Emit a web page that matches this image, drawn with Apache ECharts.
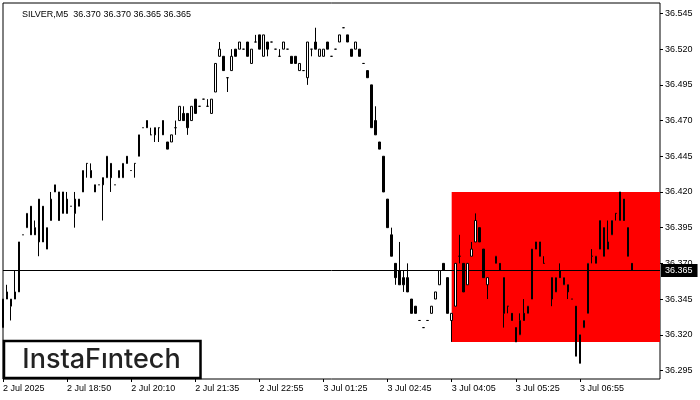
<!DOCTYPE html>
<html>
<head>
<meta charset="utf-8">
<script src="https://cdn.jsdelivr.net/npm/echarts@6.0.0/dist/echarts.min.js"></script>
<style>
html,body{margin:0;padding:0;background:#fff;}
#chart{width:700px;height:400px;}
</style>
</head>
<body>
<div id="chart"></div>
<script>
// ---- data (SILVER, M5) ----
const symbolTitle = 'SILVER,M5  36.370 36.370 36.365 36.365';
const tickLabels = ['2 Jul 2025','2 Jul 18:50','2 Jul 20:10','2 Jul 21:35','2 Jul 22:55','3 Jul 01:25','3 Jul 02:45','3 Jul 04:05','3 Jul 05:25','3 Jul 06:55'];
const barsPerTick = 16;
const slotCount = 165; // bars plus empty right shift
const priceTicks = [36.295,36.320,36.345,36.370,36.395,36.420,36.445,36.470,36.495,36.520,36.545];

const opens = [36.325,36.350,36.340,36.350,36.350,36.390,36.395,36.410,36.395,36.385,
36.410,36.380,36.400,36.420,36.420,36.405,36.415,36.410,36.415,36.410,
36.420,36.440,36.435,36.425,36.425,36.430,36.430,36.440,36.425,36.430,
36.430,36.445,36.435,36.440,36.445,36.465,36.470,36.460,36.465,36.465,
36.470,36.455,36.455,36.465,36.470,36.475,36.475,36.470,36.485,36.480,
36.485,36.480,36.475,36.490,36.515,36.515,36.500,36.505,36.520,36.520,
36.520,36.525,36.510,36.525,36.530,36.515,36.525,36.525,36.520,36.515,
36.520,36.520,36.515,36.515,36.505,36.505,36.500,36.520,36.525,36.515,
36.515,36.525,36.515,36.520,36.525,36.535,36.530,36.520,36.520,36.520,
36.510,36.505,36.495,36.470,36.455,36.445,36.415,36.390,36.370,36.365,
36.360,36.360,36.345,36.340,36.330,36.325,36.330,36.335,36.345,36.355,
36.370,36.360,36.330,36.340,36.375,36.370,36.355,36.375,36.385,36.395,
36.380,36.355,36.365,36.370,36.370,36.360,36.340,36.335,36.325,36.320,
36.335,36.335,36.345,36.385,36.385,36.370,36.365,36.360,36.350,36.365,
36.355,36.355,36.345,36.340,36.300,36.325,36.335,36.375,36.370,36.380,
36.395,36.380,36.390,36.405,36.400,36.415,36.395,36.370];

const highs = [36.345,36.355,36.345,36.365,36.385,36.390,36.405,36.410,36.400,36.415,
36.410,36.395,36.420,36.425,36.420,36.420,36.420,36.410,36.420,36.415,
36.435,36.440,36.440,36.425,36.425,36.430,36.445,36.440,36.425,36.435,
36.440,36.445,36.435,36.440,36.460,36.465,36.470,36.465,36.465,36.465,
36.470,36.455,36.460,36.470,36.480,36.480,36.475,36.480,36.485,36.480,
36.485,36.485,36.485,36.510,36.525,36.515,36.500,36.520,36.520,36.525,
36.520,36.525,36.520,36.530,36.530,36.530,36.525,36.525,36.520,36.520,
36.525,36.520,36.515,36.515,36.510,36.505,36.525,36.520,36.535,36.520,
36.520,36.525,36.515,36.520,36.530,36.535,36.530,36.520,36.525,36.520,
36.510,36.505,36.495,36.480,36.455,36.445,36.415,36.395,36.370,36.385,
36.365,36.370,36.345,36.340,36.330,36.325,36.330,36.340,36.350,36.365,
36.370,36.360,36.335,36.370,36.390,36.370,36.370,36.385,36.405,36.395,
36.380,36.360,36.365,36.375,36.370,36.360,36.340,36.335,36.325,36.335,
36.345,36.340,36.380,36.385,36.385,36.375,36.365,36.360,36.360,36.370,
36.360,36.355,36.345,36.340,36.320,36.330,36.370,36.380,36.375,36.400,
36.395,36.400,36.400,36.405,36.420,36.415,36.395,36.370];

const lows = [36.325,36.345,36.330,36.345,36.350,36.390,36.395,36.390,36.390,36.375,
36.385,36.380,36.400,36.420,36.400,36.405,36.405,36.410,36.395,36.410,
36.420,36.430,36.430,36.420,36.425,36.400,36.430,36.420,36.425,36.430,
36.430,36.440,36.435,36.430,36.445,36.465,36.465,36.460,36.455,36.455,
36.460,36.450,36.455,36.460,36.470,36.470,36.460,36.470,36.475,36.480,
36.485,36.480,36.475,36.490,36.515,36.505,36.490,36.505,36.515,36.520,
36.520,36.515,36.510,36.525,36.520,36.515,36.515,36.525,36.520,36.515,
36.520,36.520,36.510,36.510,36.505,36.505,36.495,36.515,36.520,36.515,
36.515,36.520,36.515,36.520,36.525,36.535,36.525,36.515,36.520,36.515,
36.510,36.500,36.465,36.460,36.450,36.420,36.395,36.375,36.355,36.355,
36.350,36.350,36.335,36.335,36.330,36.325,36.330,36.335,36.345,36.355,
36.365,36.335,36.315,36.340,36.370,36.350,36.355,36.375,36.385,36.385,
36.360,36.345,36.365,36.370,36.365,36.325,36.335,36.330,36.315,36.320,
36.330,36.335,36.345,36.380,36.375,36.370,36.365,36.340,36.350,36.360,
36.355,36.345,36.345,36.305,36.300,36.325,36.335,36.370,36.370,36.380,
36.375,36.380,36.390,36.400,36.400,36.400,36.375,36.365];

const closes = [36.345,36.345,36.345,36.345,36.385,36.390,36.405,36.390,36.390,36.415,
36.385,36.395,36.415,36.425,36.400,36.420,36.405,36.410,36.405,36.415,
36.435,36.440,36.430,36.420,36.425,36.425,36.445,36.430,36.425,36.435,
36.440,36.440,36.435,36.440,36.460,36.465,36.465,36.460,36.460,36.465,
36.460,36.450,36.460,36.465,36.480,36.470,36.465,36.480,36.475,36.480,
36.485,36.480,36.485,36.510,36.520,36.505,36.500,36.515,36.515,36.525,
36.520,36.515,36.520,36.525,36.520,36.530,36.520,36.525,36.520,36.515,
36.525,36.520,36.510,36.510,36.510,36.505,36.525,36.520,36.520,36.520,
36.520,36.520,36.515,36.520,36.530,36.535,36.525,36.515,36.525,36.515,
36.510,36.500,36.465,36.460,36.450,36.420,36.395,36.375,36.360,36.355,
36.355,36.350,36.335,36.335,36.330,36.325,36.330,36.340,36.350,36.365,
36.365,36.335,36.335,36.370,36.375,36.350,36.370,36.380,36.400,36.385,
36.360,36.360,36.365,36.375,36.365,36.335,36.340,36.330,36.315,36.330,
36.330,36.340,36.380,36.380,36.375,36.370,36.365,36.345,36.360,36.360,
36.360,36.350,36.345,36.305,36.320,36.330,36.370,36.375,36.375,36.400,
36.375,36.385,36.400,36.405,36.420,36.400,36.375,36.365];

// pattern rectangle
const patternStart = 112;
const patternEnd = 164;
const patternHigh = 36.420;
const patternLow = 36.315;

const yMin = 36.28902;
const yMax = 36.55233;

// ---- build ----
const categories = Array.from({length: slotCount}, (_, i) =>
  (i % barsPerTick === 0 && tickLabels[i / barsPerTick]) ? tickLabels[i / barsPerTick] : '');
const ohlc = opens.map((o, i) => [o, closes[i], lows[i], highs[i]]);
const lastPrice = closes[closes.length - 1];
const FONT = 'Liberation Sans';

const chart = echarts.init(document.getElementById('chart'));
chart.setOption({
  animation: false,
  backgroundColor: '#fff',
  title: {
    text: symbolTitle, left: 17, top: 5,
    textStyle: {fontSize: 9, fontWeight: 'normal', color: '#000', fontFamily: FONT}
  },
  grid: {left: 3, right: 40, top: 3, bottom: 21, show: true, borderColor: '#000', borderWidth: 1, backgroundColor: 'transparent'},
  xAxis: {
    type: 'category', data: categories, boundaryGap: false,
    axisLine: {show: false},
    axisTick: {show: true, length: 3, lineStyle: {color: '#000'}, interval: (i, v) => v !== ''},
    axisLabel: {interval: (i, v) => v !== '', align: 'left', margin: 5, fontSize: 9, color: '#000', fontFamily: FONT},
    splitLine: {show: false}
  },
  yAxis: {
    type: 'value', position: 'right', min: yMin, max: yMax, scale: true,
    axisLine: {show: false},
    splitLine: {show: false},
    axisTick: {show: true, length: 3, lineStyle: {color: '#000'}, customValues: priceTicks},
    axisLabel: {customValues: priceTicks, formatter: v => v.toFixed(3), margin: 5, fontSize: 9, color: '#000', fontFamily: FONT}
  },
  series: [
    {
      type: 'line', data: closes, showSymbol: false, silent: true, z: 1,
      lineStyle: {opacity: 0},
      markArea: {
        silent: true,
        itemStyle: {color: '#ff0000', opacity: 1},
        data: [[{xAxis: patternStart, yAxis: patternHigh}, {xAxis: patternEnd, yAxis: patternLow}]]
      }
    },
    {
      type: 'candlestick', data: ohlc, barWidth: 2, clip: false, z: 5, silent: true,
      itemStyle: {color: '#fff', color0: '#000', borderColor: '#000', borderColor0: '#000', borderColorDoji: '#000', borderWidth: 1}
    },
    {
      type: 'line', data: closes, showSymbol: false, silent: true, z: 8,
      lineStyle: {opacity: 0},
      markLine: {
        silent: true, symbol: 'none', precision: 3,
        lineStyle: {color: '#000', width: 1, type: 'solid'},
        label: {
          position: 'end', distance: 1, formatter: p => Number(p.value).toFixed(3),
          backgroundColor: '#000', color: '#fff', padding: [2, 5, 2, 4], fontSize: 9, fontFamily: FONT
        },
        data: [{yAxis: lastPrice}]
      }
    }
  ],
  graphic: [{
    type: 'group', z: 100,
    children: [
      {type: 'rect', shape: {x: 4, y: 341, width: 196.5, height: 37}, style: {fill: '#fff', stroke: '#000', lineWidth: 2.5}},
      {type: 'text', style: {text: 'InstaFıntech', x: 101.5, y: 359.5, align: 'center', verticalAlign: 'middle', font: '500 27px Inter', fill: '#222'}}
    ]
  }]
});
</script>
</body>
</html>
